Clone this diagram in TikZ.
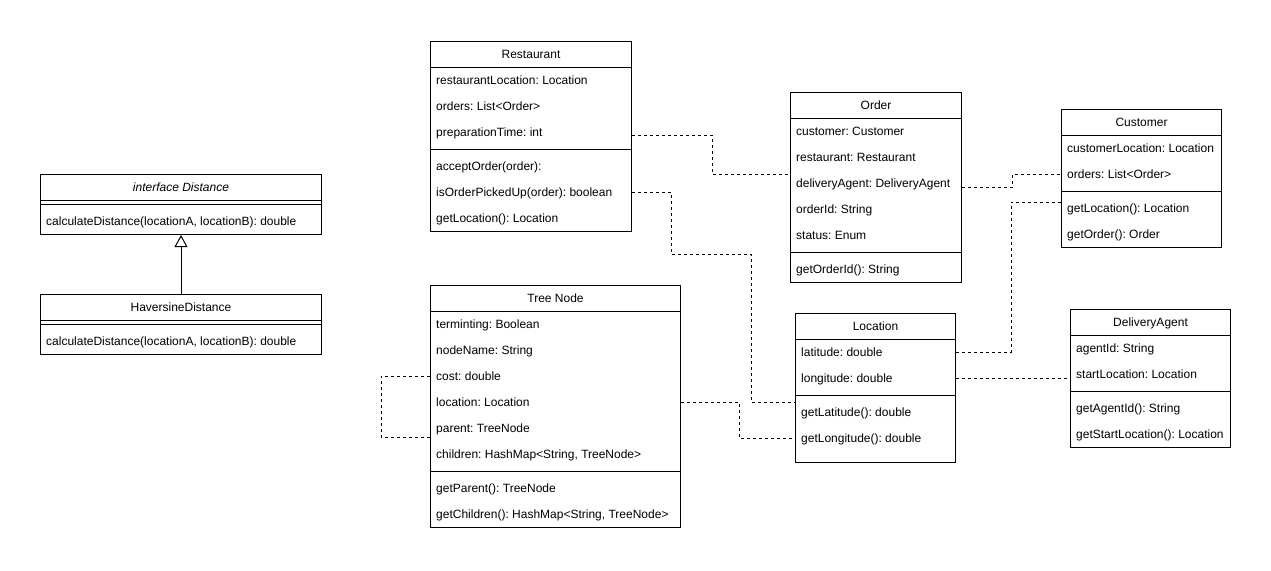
\documentclass[tikz,border=0pt]{standalone}
\usepackage{fontspec}
\setmainfont{Liberation Sans}
\usetikzlibrary{calc,arrows.meta}
\frenchspacing

\newcommand\umlfont{\fontsize{12pt}{14pt}\selectfont}

% \umlclass{name}{left}{top}{width}{height}{#attributes}{title}{attributes}{methods}
\newcommand\umlclass[9]{%
  \node[classbox, minimum width=#4pt, minimum height=#5pt] (#1) at (#2,#3) {};
  \node[classtitle] (#1-title) at ($(#1.north)+(0,13.5)$) {#7};
  \draw[classline] ($(#1.north west)+(0,26)$) -- ($(#1.north east)+(0,26)$);
  \ifnum#6>0
    \foreach \t [count=\i] in {#8}
      {\node[classrow] (#1-a\i) at ($(#1.north west)+(0,26*\i+13)$) {\t};}
  \fi
  \draw[classline] ($(#1.north west)+(0,26*#6+30)$) -- ($(#1.north east)+(0,26*#6+30)$);
  \foreach \t [count=\i] in {#9}
    {\node[classrow] (#1-m\i) at ($(#1.north west)+(0,26*#6+26*\i+21)$) {\t};}
}

\tikzset{
  classbox/.style={draw=black, line width=1pt, fill=white, rectangle,
    inner sep=0pt, anchor=north west},
  classline/.style={draw=black, line width=1pt},
  classtitle/.style={inner sep=0pt, text height=8.5pt, text depth=0.5pt,
    anchor=center, font=\umlfont},
  classrow/.style={inner xsep=6pt, inner ysep=0pt, text height=8.5pt,
    text depth=0.5pt, anchor=west, font=\umlfont},
  assoc/.style={draw=black, line width=1pt, dash pattern=on 3pt off 3pt},
  realize/.style={draw=black, line width=1pt,
    -{Triangle[open, width=13pt, length=12pt, line width=1pt]}},
}

\begin{document}
\begin{tikzpicture}[x=1pt, y=-1pt]
\fill[white] (0,0) rectangle (1271,570);
\useasboundingbox (0,0) rectangle (1271,570);

% distance interface and its implementation
\umlclass{dist}{40}{174}{281}{60}{0}{\itshape interface Distance}{}
  {{calculateDistance(locationA, locationB): double}}
\umlclass{hav}{40}{294}{281}{60}{0}{HaversineDistance}{}
  {{calculateDistance(locationA, locationB): double}}

% domain classes
\umlclass{rest}{430}{41}{201}{190}{3}{Restaurant}
  {restaurantLocation: Location, orders: List<Order>, preparationTime: int}
  {acceptOrder(order):, isOrderPickedUp(order): boolean, getLocation(): Location}
\umlclass{order}{790}{92}{171}{190}{5}{Order}
  {customer: Customer, restaurant: Restaurant, deliveryAgent: DeliveryAgent,
   orderId: String, status: Enum}
  {getOrderId(): String}
\umlclass{cust}{1061}{109}{160}{138}{2}{Customer}
  {customerLocation: Location, orders: List<Order>}
  {getLocation(): Location, getOrder(): Order}
\umlclass{tree}{430}{285}{250}{242}{6}{Tree Node}
  {terminting: Boolean, nodeName: String, cost: double, location: Location,
   parent: TreeNode, {children: HashMap<String, TreeNode>}}
  {getParent(): TreeNode, {getChildren(): HashMap<String, TreeNode>}}
\umlclass{loc}{795}{313}{160}{149}{2}{Location}
  {latitude: double, longitude: double}
  {getLatitude(): double, getLongitude(): double}
\umlclass{da}{1070}{309}{160}{138}{2}{DeliveryAgent}
  {agentId: String, startLocation: Location}
  {getAgentId(): String, getStartLocation(): Location}

% realization
\draw[realize] (hav.north) -- (dist.south);

% associations
\draw[assoc] ($(rest.east |- rest-a3)+(0,3)$) -- ++(80,0)
  |- ($(order.west |- order-a3)+(0,-9)$);
\draw[assoc] (rest.east |- rest-m2) -- ++(39,0) -- ++(0,62) -- ++(80,0)
  |- ($(loc.west |- loc-m1)+(0,-10)$);
\draw[assoc] ($(order.east |- order-a3)+(0,4.5)$) -- ++(50,0)
  |- (cust.west |- cust-a2);
\draw[assoc] ($(cust.west |- cust-m1)+(0,-6)$) -- ++(-50,0)
  |- (loc.east |- loc-a1);
\draw[assoc] (loc.east |- loc-a2) -- (da.west |- loc-a2);
\draw[assoc] (tree.east |- tree-a4) -- ++(58,0) |- (loc.west |- loc-m2);
\draw[assoc] (tree.west |- tree-a3) -- ++(-49,0)
  |- ($(tree.west |- tree-a5)+(0,9)$);
\end{tikzpicture}
\end{document}
